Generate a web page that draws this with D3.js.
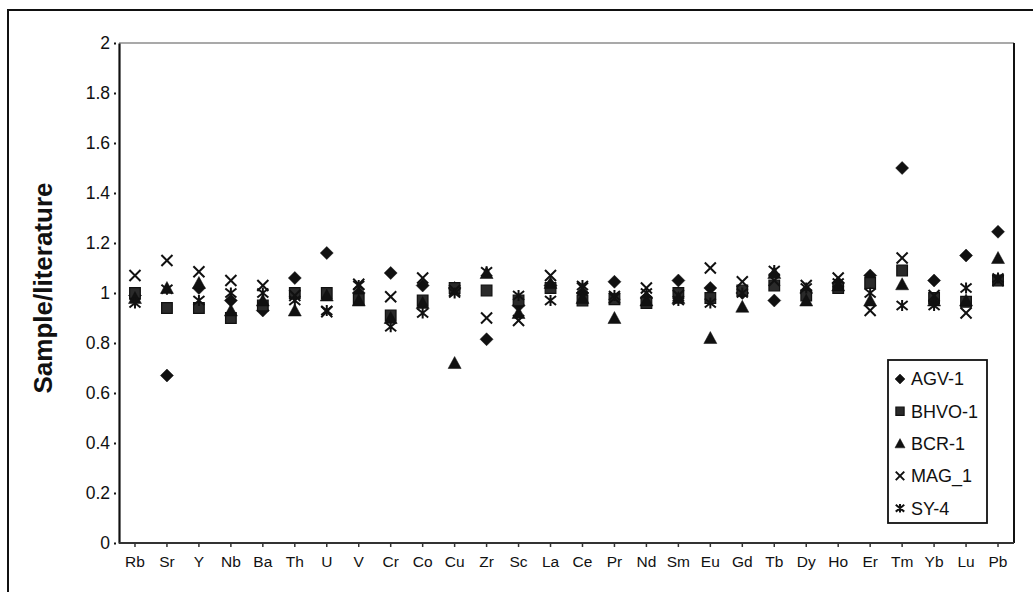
<!DOCTYPE html>
<html>
<head>
<meta charset="utf-8">
<script src="https://cdn.jsdelivr.net/npm/d3@7"></script>
<style>
  body { margin: 0; background: #fff; }
  text { font-family: "Liberation Sans", Arial, sans-serif; fill: #111; }
</style>
</head>
<body>
<div id="chart"></div>
<script>
// Data
const elements = ['Rb','Sr','Y','Nb','Ba','Th','U','V','Cr','Co','Cu','Zr','Sc','La','Ce','Pr','Nd','Sm','Eu','Gd','Tb','Dy','Ho','Er','Tm','Yb','Lu','Pb']
const yTicks = [0, 0.2, 0.4, 0.6, 0.8, 1, 1.2, 1.4, 1.6, 1.8, 2]

const agv1  = [0.99,0.67,1.02,0.97,0.93,1.06,1.16,1.00,1.08,1.03,1.02,0.815,0.95,1.03,1.00,1.045,0.98,1.05,1.02,1.00,0.97,1.00,1.04,1.07,1.50,1.05,1.15,1.245]
const bhvo1 = [1.00,0.94,0.94,0.90,0.95,1.00,1.00,0.975,0.91,0.97,1.02,1.01,0.97,1.02,0.97,0.975,0.96,1.00,0.98,1.01,1.03,0.99,1.02,1.04,1.09,0.98,0.965,1.05]
const bcr1  = [0.98,1.02,1.04,0.93,0.97,0.93,0.99,0.97,0.90,0.96,0.72,1.08,0.92,1.04,0.98,0.90,0.97,0.98,0.82,0.945,1.08,0.97,1.03,0.97,1.035,0.97,0.97,1.14]
const mag1  = [1.07,1.13,1.085,1.05,1.03,0.99,0.925,1.035,0.985,1.06,1.01,0.90,0.89,1.07,1.02,0.98,1.02,0.99,1.10,1.045,1.05,1.03,1.06,0.93,1.14,0.99,0.92,1.05]
const sy4   = [0.96,1.015,0.97,1.00,1.00,0.97,0.93,1.03,0.865,0.92,1.00,1.085,0.99,0.97,1.03,0.99,1.00,0.97,0.96,1.00,1.09,1.02,1.04,1.00,0.95,0.95,1.02,1.06]

const series = [
  { name: 'AGV-1',  shape: 'diamond',  values: agv1 },
  { name: 'BHVO-1', shape: 'square',   values: bhvo1 },
  { name: 'BCR-1',  shape: 'triangle', values: bcr1 },
  { name: 'MAG_1',  shape: 'cross',    values: mag1 },
  { name: 'SY-4',   shape: 'star',     values: sy4 },
]

// Dimensions
const dimensions = { width: 1033, height: 592, left: 119, top: 43, right: 1014, bottom: 543 }

const svg = d3.select('#chart')
  .append('svg')
  .attr('width', dimensions.width)
  .attr('height', dimensions.height)

// outer frame
svg.append('rect')
  .attr('x', 8).attr('y', 10)
  .attr('width', 1060).attr('height', 620)
  .attr('fill', 'none').attr('stroke', '#111').attr('stroke-width', 2)

// Scales
const xScale = d3.scaleBand()
  .domain(elements)
  .range([dimensions.left, dimensions.right])
const cx = d => xScale(d) + xScale.bandwidth() / 2

const yScale = d3.scaleLinear()
  .domain([0, 2])
  .range([dimensions.bottom, dimensions.top])

// plot border (top / right)
svg.append('line')
  .attr('x1', dimensions.left).attr('x2', dimensions.right)
  .attr('y1', dimensions.top).attr('y2', dimensions.top)
  .attr('stroke', '#555').attr('stroke-width', 1.2)
svg.append('line')
  .attr('x1', dimensions.right).attr('x2', dimensions.right)
  .attr('y1', dimensions.top).attr('y2', dimensions.bottom)
  .attr('stroke', '#111').attr('stroke-width', 2)

// Axes
const yAxis = d3.axisLeft(yScale)
  .tickValues(yTicks)
  .tickSize(0)
  .tickPadding(9)
  .tickFormat(d => d3.format('')(+d.toFixed(1)))

const yAxisGroup = svg.append('g')
  .attr('transform', `translate(${dimensions.left},0)`)
  .call(yAxis)
yAxisGroup.select('.domain').attr('stroke', '#111').attr('stroke-width', 2.2)
yAxisGroup.selectAll('.tick text').style('font-size', '17.5px').attr('fill', '#111')
yAxisGroup.selectAll('.tick').append('line')
  .attr('x1', -5).attr('x2', -3)
  .attr('stroke', '#111').attr('stroke-width', 2)

const xAxis = d3.axisBottom(xScale)
  .tickSize(4)
  .tickPadding(9)

const xAxisGroup = svg.append('g')
  .attr('transform', `translate(0,${dimensions.bottom})`)
  .call(xAxis)
xAxisGroup.select('.domain').attr('stroke', '#333').attr('stroke-width', 2).attr('d', `M${dimensions.left},0H${dimensions.right}`)
xAxisGroup.selectAll('.tick line').attr('stroke', '#333').attr('stroke-width', 1.5)
xAxisGroup.selectAll('.tick text').style('font-size', '15.5px').attr('fill', '#111')

// y title
svg.append('text')
  .attr('transform', 'translate(52,288) rotate(-90)')
  .attr('text-anchor', 'middle')
  .style('font-size', '26px')
  .style('font-weight', 'bold')
  .text('Sample/literature')

// Marker shapes
function markerPath(shape, s) {
  const h = s / 2
  if (shape === 'diamond') return `M0,${-h}L${h},0L0,${h}L${-h},0Z`
  if (shape === 'square') { const q = h * 0.82; return `M${-q},${-q}H${q}V${q}H${-q}Z` }
  if (shape === 'triangle') return `M0,${-h}L${h},${h * 0.85}L${-h},${h * 0.85}Z`
  if (shape === 'cross') { const q = h * 0.85; return `M${-q},${-q}L${q},${q}M${q},${-q}L${-q},${q}` }
  if (shape === 'star') { const q = h * 0.85; return `M${-q},${-q * 0.8}L${q},${q * 0.8}M${q},${-q * 0.8}L${-q},${q * 0.8}M0,${-q}V${q}` }
}
function styleMarker(sel, shape) {
  const open = shape === 'cross' || shape === 'star'
  sel.attr('fill', open ? 'none' : '#111')
    .attr('stroke', '#111')
    .attr('stroke-width', open ? 2 : (shape === 'square' ? 1.2 : 0.5))
  if (shape === 'square') sel.attr('fill', '#2a2a2a')
}

// Points
series.forEach(s => {
  const g = svg.append('g')
  g.selectAll('path')
    .data(s.values.map((v, i) => ({ el: elements[i], v })))
    .join('path')
    .attr('transform', d => `translate(${cx(d.el)},${yScale(d.v)})`)
    .attr('d', markerPath(s.shape, 13))
    .call(styleMarker, s.shape)
})

// Legend
const legend = svg.append('g').attr('transform', 'translate(888,360)')
legend.append('rect')
  .attr('width', 99).attr('height', 163)
  .attr('fill', '#fff').attr('stroke', '#111').attr('stroke-width', 1.8)
series.forEach((s, i) => {
  const row = legend.append('g').attr('transform', `translate(12,${19 + i * 32.3})`)
  row.append('path')
    .attr('d', markerPath(s.shape, 10))
    .call(styleMarker, s.shape)
  row.append('text')
    .attr('x', 11)
    .attr('dy', '0.35em')
    .style('font-size', '18px')
    .text(s.name)
})
</script>
</body>
</html>
